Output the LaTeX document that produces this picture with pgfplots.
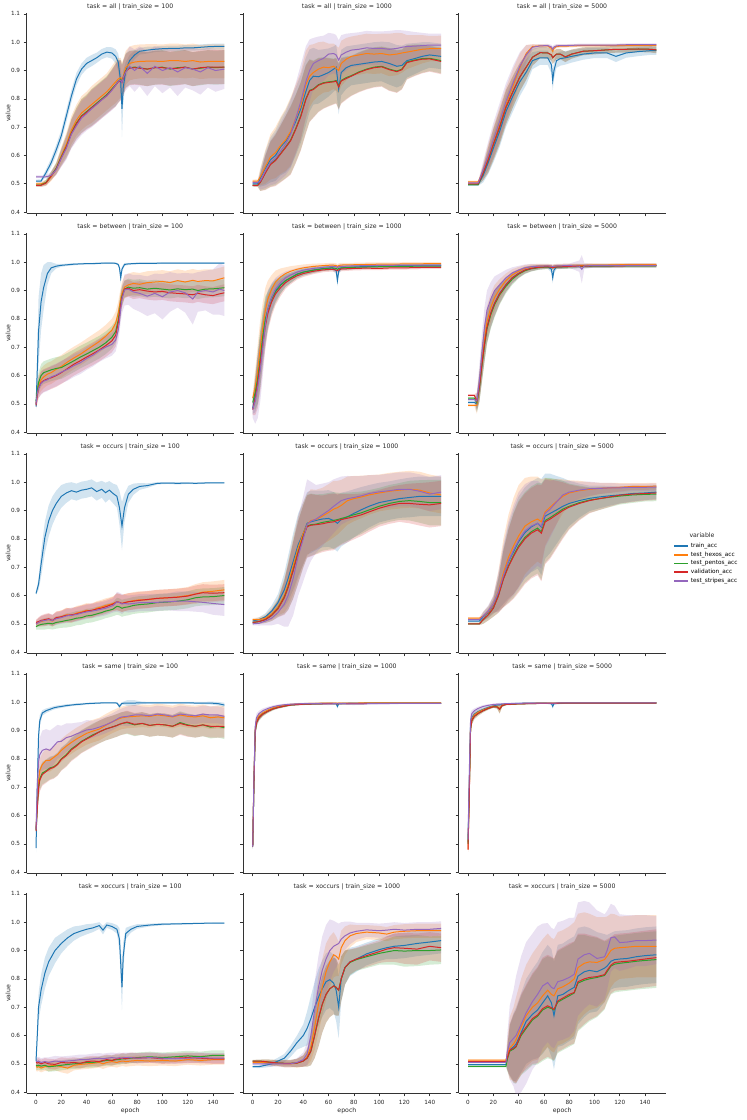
\documentclass[border=0pt]{standalone}
\usepackage{fontspec}
\setmainfont{DejaVu Sans}
\usepackage{pgfplots}
\usepackage{pgfplotstable}
\pgfplotsset{compat=1.18}
\usepgfplotslibrary{fillbetween}
\definecolor{mplblue}{HTML}{1F77B4}
\definecolor{mplorange}{HTML}{FF7F0E}
\definecolor{mplgreen}{HTML}{2CA02C}
\definecolor{mplred}{HTML}{D62728}
\definecolor{mplpurple}{HTML}{9467BD}
\newcommand{\fs}{\fontsize{6.2}{7.4}\selectfont}
\newcommand{\fst}{\fontsize{5.7}{6.8}\selectfont}
\newcommand{\fsl}{\fontsize{5.8}{6.9}\selectfont}
\pgfplotsset{
  facet/.style={
    width=207.2pt, height=200.3pt, scale only axis, anchor=north west,
    xmin=-7.45, xmax=156.45, ymin=0.3955, ymax=1.1025,
    axis x line*=bottom, axis y line*=left,
    axis line style={-, black!80, line width=0.7pt},
    xtick={0,20,40,60,80,100,120,140},
    ytick={0.4,0.5,0.6,0.7,0.8,0.9,1.0,1.1},
    tick align=outside, major tick length=3pt,
    tick style={black!80, line width=0.7pt},
    ticklabel style={font=\fst, text=black!85},
    xticklabels={}, yticklabels={},
    every axis title/.style={font=\fs, text=black!85, at={(axis description cs:0.5,1)}, anchor=base, yshift=5pt},
    every axis y label/.style={font=\fs, text=black!85, at={(axis description cs:-0.09,0.5)}, anchor=center, rotate=90},
    every axis x label/.style={font=\fs, text=black!85, at={(axis description cs:0.5,0)}, anchor=center, yshift=-17.5pt},
  },
  firstcol/.style={yticklabels={0.4,0.5,0.6,0.7,0.8,0.9,1.0,1.1}, ylabel={value}},
  lastrow/.style={xticklabels={0,20,40,60,80,100,120,140}, xlabel={epoch}},
}
\newcommand{\band}[3]{%
  \addplot[draw=none, name path=U#2, forget plot] table[x=e, y expr=\thisrow{#2}+\thisrow{#2w}] {#1};
  \addplot[draw=none, name path=L#2, forget plot] table[x=e, y expr=\thisrow{#2}-\thisrow{#2w}] {#1};
  \addplot[fill=#3, fill opacity=0.2, draw=none, forget plot] fill between[of=U#2 and L#2];
}
\newcommand{\mline}[3]{\addplot[#3, line width=1.0pt, forget plot] table[x=e, y=#2] {#1};}
\newcommand{\panelplots}[1]{%
  \band{#1}{a}{mplblue}\band{#1}{b}{mplorange}\band{#1}{c}{mplgreen}\band{#1}{d}{mplred}\band{#1}{f}{mplpurple}%
  \mline{#1}{a}{mplblue}\mline{#1}{b}{mplorange}\mline{#1}{c}{mplgreen}\mline{#1}{d}{mplred}\mline{#1}{f}{mplpurple}%
}
\begin{document}
% columns: e = epoch; a = train_acc, b = test_hexos_acc, c = test_pentos_acc, d = validation_acc, f = test_stripes_acc; *w = band half-width
\pgfplotstableread{
e a aw b bw c cw d dw f fw
0 0.510 0.005 0.500 0.005 0.495 0.005 0.495 0.005 0.525 0.005
4 0.510 0.006 0.500 0.006 0.496 0.006 0.495 0.006 0.525 0.005
8 0.540 0.012 0.505 0.010 0.505 0.010 0.503 0.010 0.525 0.006
12 0.575 0.015 0.525 0.015 0.530 0.015 0.528 0.015 0.530 0.012
16 0.620 0.018 0.555 0.020 0.555 0.020 0.552 0.020 0.550 0.018
20 0.670 0.020 0.600 0.030 0.595 0.030 0.592 0.030 0.590 0.030
24 0.740 0.022 0.640 0.040 0.632 0.040 0.630 0.040 0.625 0.040
28 0.810 0.022 0.690 0.050 0.680 0.050 0.678 0.050 0.675 0.050
32 0.870 0.022 0.725 0.055 0.715 0.055 0.712 0.055 0.705 0.055
36 0.905 0.020 0.750 0.060 0.740 0.060 0.738 0.060 0.732 0.060
40 0.925 0.020 0.765 0.060 0.755 0.060 0.752 0.060 0.748 0.060
44 0.935 0.020 0.780 0.065 0.770 0.065 0.768 0.065 0.765 0.065
48 0.945 0.018 0.795 0.065 0.785 0.065 0.782 0.065 0.780 0.065
52 0.958 0.018 0.810 0.065 0.800 0.065 0.797 0.065 0.796 0.065
56 0.965 0.018 0.825 0.065 0.815 0.065 0.812 0.065 0.810 0.065
60 0.962 0.020 0.845 0.070 0.835 0.070 0.832 0.070 0.830 0.070
63 0.950 0.025 0.860 0.075 0.850 0.075 0.848 0.075 0.848 0.075
65 0.930 0.030 0.870 0.075 0.862 0.075 0.860 0.075 0.862 0.075
67 0.860 0.050 0.875 0.070 0.868 0.070 0.865 0.070 0.866 0.070
68 0.765 0.100 0.868 0.060 0.862 0.060 0.858 0.060 0.858 0.060
69 0.840 0.060 0.880 0.060 0.875 0.060 0.872 0.060 0.876 0.060
71 0.900 0.030 0.910 0.060 0.900 0.060 0.898 0.060 0.895 0.065
74 0.935 0.020 0.925 0.060 0.910 0.060 0.908 0.060 0.915 0.070
78 0.955 0.015 0.930 0.060 0.912 0.060 0.910 0.060 0.900 0.075
82 0.968 0.012 0.932 0.060 0.910 0.060 0.908 0.060 0.915 0.070
88 0.972 0.012 0.933 0.060 0.905 0.060 0.905 0.060 0.890 0.080
94 0.975 0.010 0.933 0.060 0.910 0.060 0.910 0.060 0.915 0.070
100 0.977 0.010 0.932 0.060 0.912 0.060 0.910 0.060 0.900 0.080
106 0.978 0.010 0.935 0.060 0.905 0.060 0.907 0.060 0.910 0.070
112 0.978 0.010 0.935 0.060 0.910 0.060 0.908 0.060 0.895 0.085
118 0.980 0.010 0.932 0.060 0.912 0.060 0.912 0.060 0.910 0.070
124 0.980 0.010 0.935 0.060 0.905 0.060 0.905 0.060 0.905 0.075
130 0.982 0.010 0.930 0.060 0.908 0.060 0.910 0.060 0.895 0.080
136 0.984 0.010 0.932 0.060 0.912 0.060 0.912 0.060 0.910 0.070
142 0.985 0.010 0.932 0.060 0.910 0.060 0.912 0.060 0.900 0.075
149 0.985 0.010 0.932 0.060 0.912 0.060 0.912 0.060 0.905 0.070
}\Pa
\pgfplotstableread{
e a aw b bw c cw d dw f fw
0 0.500 0.005 0.510 0.005 0.495 0.005 0.495 0.005 0.505 0.005
4 0.500 0.006 0.510 0.006 0.495 0.006 0.495 0.006 0.505 0.006
6 0.520 0.030 0.525 0.030 0.505 0.030 0.505 0.030 0.510 0.030
10 0.555 0.060 0.560 0.060 0.540 0.060 0.538 0.060 0.545 0.060
14 0.585 0.080 0.595 0.080 0.570 0.080 0.568 0.080 0.575 0.080
18 0.600 0.090 0.610 0.090 0.585 0.090 0.582 0.090 0.590 0.090
22 0.630 0.100 0.635 0.100 0.607 0.100 0.605 0.100 0.615 0.100
26 0.650 0.110 0.655 0.110 0.630 0.110 0.628 0.110 0.640 0.110
30 0.680 0.120 0.685 0.120 0.655 0.120 0.652 0.120 0.675 0.120
34 0.720 0.120 0.730 0.120 0.695 0.120 0.692 0.120 0.730 0.125
38 0.765 0.120 0.775 0.120 0.740 0.120 0.737 0.120 0.790 0.130
42 0.825 0.120 0.850 0.120 0.800 0.120 0.797 0.120 0.860 0.125
45 0.865 0.110 0.880 0.110 0.830 0.110 0.828 0.110 0.900 0.110
48 0.880 0.100 0.893 0.100 0.835 0.100 0.833 0.100 0.925 0.090
52 0.878 0.095 0.905 0.095 0.850 0.095 0.848 0.095 0.935 0.085
56 0.885 0.090 0.912 0.090 0.857 0.090 0.855 0.090 0.943 0.080
60 0.893 0.085 0.910 0.085 0.860 0.085 0.858 0.085 0.958 0.075
64 0.905 0.080 0.915 0.080 0.862 0.080 0.860 0.080 0.960 0.070
66 0.912 0.080 0.908 0.080 0.865 0.080 0.863 0.080 0.955 0.070
68 0.835 0.090 0.900 0.080 0.845 0.080 0.842 0.080 0.937 0.070
70 0.893 0.080 0.925 0.080 0.865 0.080 0.863 0.080 0.955 0.070
74 0.910 0.075 0.940 0.075 0.875 0.075 0.872 0.075 0.965 0.065
78 0.918 0.070 0.950 0.070 0.882 0.070 0.880 0.070 0.972 0.060
84 0.922 0.070 0.955 0.070 0.895 0.070 0.893 0.070 0.975 0.060
90 0.926 0.070 0.960 0.070 0.905 0.070 0.903 0.070 0.980 0.060
96 0.930 0.070 0.958 0.070 0.912 0.070 0.910 0.070 0.978 0.060
102 0.932 0.070 0.960 0.070 0.915 0.070 0.913 0.070 0.978 0.060
108 0.925 0.075 0.955 0.075 0.905 0.075 0.903 0.075 0.975 0.065
114 0.915 0.075 0.958 0.075 0.898 0.075 0.896 0.075 0.978 0.065
118 0.918 0.070 0.962 0.070 0.905 0.070 0.903 0.070 0.982 0.060
122 0.935 0.060 0.965 0.060 0.930 0.060 0.928 0.060 0.985 0.055
128 0.942 0.055 0.970 0.055 0.937 0.055 0.935 0.055 0.986 0.050
134 0.950 0.050 0.975 0.050 0.942 0.050 0.940 0.050 0.988 0.045
140 0.955 0.045 0.977 0.045 0.943 0.045 0.941 0.045 0.990 0.040
149 0.950 0.045 0.978 0.045 0.935 0.045 0.932 0.045 0.990 0.040
}\Pb
\pgfplotstableread{
e a aw b bw c cw d dw f fw
0 0.497 0.004 0.507 0.004 0.497 0.004 0.500 0.004 0.503 0.004
8 0.497 0.004 0.507 0.004 0.497 0.004 0.500 0.004 0.503 0.004
12 0.530 0.025 0.545 0.025 0.538 0.025 0.538 0.025 0.550 0.030
16 0.575 0.040 0.595 0.045 0.585 0.045 0.585 0.045 0.600 0.050
20 0.625 0.050 0.645 0.055 0.638 0.055 0.638 0.055 0.655 0.060
25 0.685 0.055 0.710 0.060 0.700 0.060 0.700 0.060 0.720 0.065
30 0.755 0.055 0.780 0.060 0.770 0.060 0.770 0.060 0.790 0.065
36 0.815 0.055 0.850 0.060 0.830 0.055 0.830 0.055 0.860 0.060
41 0.860 0.050 0.910 0.050 0.877 0.050 0.877 0.050 0.915 0.050
46 0.894 0.045 0.960 0.030 0.912 0.045 0.912 0.045 0.955 0.035
51 0.935 0.030 0.985 0.008 0.947 0.030 0.947 0.030 0.982 0.010
57 0.945 0.025 0.987 0.005 0.963 0.020 0.963 0.020 0.987 0.006
63 0.945 0.025 0.987 0.005 0.962 0.020 0.962 0.020 0.988 0.006
66 0.920 0.030 0.978 0.008 0.955 0.020 0.955 0.020 0.983 0.008
67 0.865 0.035 0.968 0.012 0.945 0.022 0.945 0.022 0.975 0.010
68 0.900 0.030 0.978 0.008 0.950 0.020 0.950 0.020 0.983 0.008
70 0.935 0.025 0.985 0.006 0.958 0.018 0.958 0.018 0.987 0.006
73 0.942 0.025 0.986 0.005 0.958 0.018 0.958 0.018 0.988 0.005
77 0.945 0.024 0.986 0.005 0.948 0.018 0.948 0.018 0.988 0.005
82 0.950 0.022 0.987 0.005 0.958 0.016 0.958 0.016 0.989 0.005
91 0.958 0.020 0.988 0.005 0.968 0.014 0.968 0.014 0.990 0.005
100 0.962 0.018 0.988 0.005 0.970 0.013 0.970 0.013 0.990 0.005
110 0.962 0.018 0.988 0.005 0.973 0.012 0.973 0.012 0.990 0.005
117 0.950 0.020 0.988 0.005 0.975 0.012 0.975 0.012 0.990 0.005
125 0.962 0.017 0.989 0.005 0.975 0.012 0.975 0.012 0.991 0.005
135 0.967 0.016 0.989 0.005 0.976 0.011 0.976 0.011 0.991 0.005
144 0.970 0.015 0.989 0.005 0.975 0.011 0.975 0.011 0.991 0.005
149 0.970 0.015 0.989 0.005 0.973 0.012 0.973 0.012 0.991 0.005
}\Pc
\pgfplotstableread{
e a aw b bw c cw d dw f fw
0 0.490 0.010 0.500 0.010 0.510 0.010 0.495 0.010 0.500 0.010
1 0.620 0.080 0.540 0.030 0.545 0.030 0.530 0.030 0.535 0.030
2 0.757 0.120 0.565 0.035 0.575 0.035 0.555 0.035 0.555 0.035
4 0.860 0.100 0.585 0.040 0.600 0.040 0.575 0.040 0.572 0.040
6 0.910 0.080 0.595 0.040 0.610 0.040 0.582 0.040 0.580 0.040
9 0.960 0.040 0.605 0.040 0.615 0.040 0.588 0.040 0.585 0.040
12 0.980 0.020 0.610 0.040 0.620 0.040 0.592 0.040 0.595 0.040
16 0.986 0.008 0.622 0.040 0.625 0.040 0.600 0.040 0.602 0.040
20 0.989 0.005 0.632 0.040 0.628 0.040 0.610 0.040 0.612 0.040
25 0.991 0.004 0.648 0.040 0.640 0.040 0.625 0.040 0.622 0.040
30 0.993 0.004 0.662 0.040 0.652 0.040 0.640 0.040 0.635 0.040
35 0.994 0.003 0.675 0.040 0.665 0.040 0.652 0.040 0.645 0.040
40 0.995 0.003 0.690 0.040 0.676 0.040 0.665 0.040 0.660 0.040
45 0.995 0.003 0.705 0.040 0.688 0.040 0.677 0.040 0.672 0.040
50 0.996 0.003 0.720 0.040 0.700 0.040 0.690 0.040 0.688 0.040
55 0.997 0.003 0.738 0.040 0.715 0.040 0.705 0.040 0.700 0.040
60 0.997 0.003 0.760 0.040 0.735 0.040 0.722 0.040 0.710 0.040
63 0.996 0.003 0.785 0.040 0.755 0.040 0.742 0.040 0.725 0.040
65 0.992 0.004 0.820 0.040 0.795 0.040 0.785 0.040 0.760 0.040
66 0.980 0.010 0.845 0.040 0.825 0.040 0.815 0.040 0.790 0.040
67 0.945 0.020 0.870 0.040 0.855 0.040 0.850 0.040 0.835 0.045
68 0.975 0.010 0.890 0.040 0.880 0.035 0.875 0.035 0.870 0.050
70 0.992 0.005 0.912 0.040 0.905 0.030 0.905 0.030 0.902 0.055
73 0.994 0.004 0.920 0.040 0.912 0.030 0.908 0.030 0.905 0.055
77 0.995 0.003 0.925 0.040 0.908 0.030 0.900 0.030 0.895 0.060
82 0.996 0.003 0.922 0.040 0.910 0.030 0.903 0.030 0.890 0.065
88 0.996 0.003 0.928 0.040 0.905 0.030 0.898 0.030 0.880 0.070
94 0.996 0.003 0.930 0.040 0.908 0.030 0.895 0.030 0.890 0.070
100 0.997 0.003 0.932 0.040 0.905 0.030 0.897 0.030 0.878 0.080
106 0.997 0.003 0.928 0.040 0.902 0.030 0.892 0.030 0.895 0.070
112 0.997 0.003 0.935 0.040 0.906 0.030 0.890 0.030 0.900 0.060
118 0.997 0.003 0.930 0.040 0.903 0.030 0.888 0.030 0.892 0.070
124 0.997 0.003 0.936 0.040 0.905 0.030 0.885 0.030 0.870 0.090
128 0.997 0.003 0.932 0.040 0.900 0.030 0.890 0.030 0.895 0.070
134 0.997 0.003 0.935 0.040 0.905 0.030 0.885 0.030 0.900 0.070
140 0.997 0.003 0.934 0.040 0.906 0.030 0.882 0.030 0.895 0.080
145 0.997 0.003 0.940 0.040 0.908 0.030 0.888 0.030 0.905 0.090
149 0.997 0.003 0.945 0.040 0.910 0.030 0.892 0.030 0.900 0.090
}\Pd
\pgfplotstableread{
e a aw b bw c cw d dw f fw
0 0.485 0.020 0.520 0.020 0.505 0.020 0.480 0.020 0.480 0.030
2 0.530 0.060 0.560 0.060 0.540 0.060 0.520 0.060 0.510 0.080
4 0.590 0.090 0.620 0.090 0.590 0.090 0.575 0.090 0.560 0.110
6 0.660 0.100 0.700 0.100 0.660 0.100 0.645 0.100 0.620 0.110
8 0.730 0.090 0.770 0.090 0.740 0.090 0.715 0.090 0.700 0.100
10 0.790 0.080 0.830 0.080 0.800 0.080 0.775 0.080 0.780 0.080
12 0.835 0.065 0.870 0.065 0.830 0.065 0.820 0.065 0.835 0.065
15 0.875 0.050 0.905 0.050 0.870 0.050 0.860 0.050 0.875 0.050
18 0.900 0.040 0.930 0.040 0.895 0.040 0.888 0.040 0.905 0.040
22 0.920 0.030 0.948 0.030 0.918 0.030 0.910 0.030 0.928 0.030
26 0.935 0.022 0.960 0.022 0.935 0.022 0.928 0.022 0.945 0.022
30 0.945 0.018 0.968 0.018 0.945 0.018 0.940 0.018 0.955 0.018
35 0.958 0.014 0.975 0.014 0.957 0.014 0.952 0.014 0.965 0.014
40 0.965 0.012 0.980 0.012 0.965 0.012 0.960 0.012 0.972 0.012
48 0.972 0.010 0.985 0.010 0.972 0.010 0.968 0.010 0.978 0.010
56 0.978 0.008 0.988 0.008 0.977 0.008 0.973 0.008 0.982 0.008
63 0.980 0.008 0.990 0.008 0.980 0.008 0.975 0.008 0.985 0.008
66 0.970 0.012 0.988 0.008 0.978 0.008 0.972 0.008 0.984 0.008
67 0.935 0.020 0.985 0.008 0.975 0.008 0.970 0.008 0.980 0.008
68 0.968 0.012 0.988 0.008 0.978 0.008 0.973 0.008 0.984 0.008
70 0.980 0.008 0.990 0.008 0.980 0.008 0.976 0.008 0.985 0.008
80 0.983 0.008 0.991 0.007 0.982 0.007 0.978 0.007 0.987 0.007
90 0.985 0.007 0.992 0.007 0.983 0.007 0.979 0.007 0.988 0.007
100 0.986 0.007 0.993 0.006 0.984 0.006 0.978 0.006 0.989 0.006
110 0.987 0.006 0.993 0.006 0.985 0.006 0.980 0.006 0.989 0.006
120 0.988 0.006 0.994 0.006 0.985 0.006 0.980 0.006 0.990 0.006
130 0.988 0.006 0.994 0.006 0.986 0.006 0.981 0.006 0.990 0.006
140 0.989 0.006 0.995 0.005 0.986 0.006 0.982 0.006 0.990 0.006
149 0.989 0.006 0.995 0.005 0.986 0.006 0.982 0.006 0.990 0.006
}\Pe
\pgfplotstableread{
e a aw b bw c cw d dw f fw
0 0.505 0.004 0.495 0.004 0.520 0.004 0.530 0.004 0.515 0.004
5 0.505 0.004 0.495 0.004 0.520 0.004 0.530 0.004 0.515 0.004
7 0.500 0.030 0.495 0.030 0.505 0.030 0.510 0.030 0.510 0.030
9 0.560 0.050 0.560 0.050 0.555 0.050 0.560 0.050 0.580 0.060
11 0.640 0.060 0.650 0.060 0.635 0.060 0.640 0.060 0.680 0.070
13 0.710 0.060 0.725 0.060 0.705 0.060 0.710 0.060 0.770 0.070
15 0.770 0.055 0.790 0.055 0.765 0.055 0.770 0.055 0.830 0.070
18 0.820 0.050 0.840 0.050 0.815 0.050 0.820 0.050 0.870 0.060
21 0.855 0.045 0.875 0.045 0.850 0.045 0.855 0.045 0.900 0.050
25 0.890 0.035 0.905 0.035 0.885 0.035 0.888 0.035 0.920 0.040
30 0.920 0.025 0.935 0.025 0.915 0.025 0.920 0.025 0.945 0.028
35 0.945 0.020 0.955 0.020 0.940 0.020 0.945 0.020 0.962 0.020
40 0.960 0.015 0.968 0.015 0.958 0.015 0.960 0.015 0.972 0.015
45 0.972 0.012 0.978 0.012 0.970 0.012 0.972 0.012 0.980 0.012
50 0.978 0.010 0.983 0.010 0.977 0.010 0.978 0.010 0.984 0.010
56 0.982 0.008 0.986 0.008 0.981 0.008 0.982 0.008 0.986 0.008
63 0.984 0.007 0.987 0.007 0.983 0.007 0.984 0.007 0.987 0.007
66 0.975 0.012 0.986 0.007 0.982 0.007 0.982 0.007 0.986 0.007
67 0.945 0.020 0.984 0.007 0.980 0.007 0.980 0.007 0.984 0.007
68 0.972 0.012 0.986 0.007 0.982 0.007 0.982 0.007 0.986 0.007
70 0.983 0.008 0.987 0.007 0.983 0.007 0.983 0.007 0.987 0.007
80 0.985 0.007 0.988 0.007 0.984 0.007 0.985 0.007 0.988 0.007
88 0.986 0.007 0.989 0.006 0.985 0.006 0.986 0.006 0.986 0.020
90 0.986 0.007 0.989 0.006 0.985 0.006 0.986 0.006 0.975 0.050
92 0.986 0.007 0.989 0.006 0.985 0.006 0.986 0.006 0.987 0.010
100 0.987 0.006 0.990 0.006 0.986 0.006 0.987 0.006 0.988 0.007
110 0.987 0.006 0.990 0.006 0.986 0.006 0.987 0.006 0.988 0.007
120 0.988 0.006 0.991 0.006 0.987 0.006 0.987 0.006 0.988 0.007
130 0.988 0.006 0.991 0.006 0.987 0.006 0.988 0.006 0.989 0.007
140 0.988 0.006 0.991 0.006 0.987 0.006 0.988 0.006 0.989 0.007
149 0.988 0.006 0.991 0.006 0.987 0.006 0.988 0.006 0.989 0.007
}\Pf
\pgfplotstableread{
e a aw b bw c cw d dw f fw
0 0.607 0.005 0.500 0.010 0.490 0.010 0.505 0.010 0.500 0.010
2 0.640 0.020 0.505 0.015 0.495 0.015 0.508 0.015 0.505 0.015
4 0.710 0.045 0.508 0.018 0.498 0.018 0.512 0.018 0.510 0.018
7 0.805 0.055 0.512 0.020 0.500 0.020 0.515 0.020 0.512 0.020
10 0.863 0.055 0.515 0.020 0.502 0.020 0.518 0.020 0.515 0.020
13 0.900 0.050 0.510 0.020 0.500 0.020 0.512 0.020 0.512 0.020
16 0.925 0.045 0.520 0.022 0.505 0.022 0.522 0.022 0.518 0.022
20 0.950 0.040 0.525 0.022 0.508 0.022 0.525 0.022 0.522 0.022
24 0.962 0.035 0.532 0.025 0.512 0.025 0.530 0.025 0.528 0.025
28 0.970 0.030 0.528 0.025 0.515 0.025 0.532 0.025 0.530 0.025
32 0.965 0.030 0.538 0.025 0.520 0.025 0.535 0.025 0.533 0.025
36 0.972 0.030 0.542 0.025 0.522 0.025 0.540 0.025 0.538 0.025
40 0.975 0.030 0.548 0.025 0.528 0.025 0.545 0.025 0.542 0.025
44 0.980 0.030 0.545 0.025 0.530 0.025 0.548 0.025 0.545 0.025
48 0.967 0.032 0.555 0.025 0.535 0.025 0.552 0.025 0.548 0.025
52 0.975 0.030 0.560 0.025 0.540 0.025 0.556 0.025 0.552 0.025
55 0.963 0.035 0.565 0.025 0.545 0.025 0.560 0.025 0.555 0.025
58 0.972 0.032 0.568 0.025 0.548 0.025 0.565 0.025 0.560 0.025
61 0.960 0.035 0.572 0.025 0.552 0.025 0.570 0.025 0.565 0.025
64 0.950 0.040 0.578 0.030 0.562 0.030 0.578 0.030 0.578 0.035
66 0.910 0.060 0.575 0.030 0.560 0.030 0.576 0.030 0.575 0.035
68 0.845 0.085 0.572 0.030 0.555 0.030 0.572 0.030 0.570 0.035
70 0.910 0.050 0.575 0.030 0.558 0.030 0.575 0.030 0.572 0.030
73 0.957 0.030 0.578 0.030 0.560 0.030 0.578 0.030 0.570 0.030
77 0.975 0.020 0.582 0.030 0.565 0.030 0.580 0.030 0.572 0.030
82 0.985 0.012 0.585 0.030 0.568 0.030 0.583 0.030 0.575 0.030
88 0.988 0.008 0.585 0.030 0.570 0.030 0.586 0.030 0.575 0.030
96 0.996 0.004 0.590 0.030 0.575 0.030 0.590 0.030 0.576 0.030
104 0.997 0.003 0.592 0.030 0.577 0.030 0.592 0.030 0.578 0.030
112 0.996 0.004 0.595 0.030 0.580 0.030 0.594 0.030 0.580 0.035
120 0.997 0.003 0.600 0.030 0.585 0.030 0.598 0.030 0.580 0.035
126 0.996 0.003 0.605 0.035 0.592 0.030 0.605 0.030 0.578 0.035
132 0.997 0.003 0.612 0.035 0.595 0.030 0.610 0.030 0.576 0.035
140 0.998 0.002 0.615 0.035 0.596 0.030 0.608 0.030 0.572 0.040
149 0.998 0.002 0.620 0.035 0.600 0.030 0.610 0.030 0.568 0.040
}\Pg
\pgfplotstableread{
e a aw b bw c cw d dw f fw
0 0.510 0.005 0.515 0.005 0.505 0.005 0.505 0.005 0.500 0.005
5 0.515 0.008 0.515 0.008 0.508 0.008 0.508 0.008 0.502 0.008
10 0.525 0.012 0.520 0.012 0.515 0.012 0.515 0.012 0.510 0.015
15 0.545 0.020 0.535 0.020 0.530 0.020 0.530 0.020 0.520 0.025
20 0.575 0.030 0.560 0.030 0.555 0.030 0.553 0.030 0.540 0.040
25 0.620 0.060 0.600 0.060 0.595 0.060 0.592 0.060 0.570 0.080
28 0.660 0.080 0.640 0.080 0.630 0.080 0.628 0.080 0.600 0.110
32 0.720 0.100 0.705 0.100 0.690 0.100 0.688 0.100 0.660 0.130
36 0.780 0.110 0.770 0.110 0.755 0.110 0.752 0.110 0.740 0.140
40 0.820 0.110 0.820 0.110 0.810 0.110 0.808 0.110 0.800 0.150
43 0.855 0.110 0.850 0.110 0.845 0.110 0.843 0.110 0.850 0.160
46 0.860 0.110 0.865 0.110 0.850 0.110 0.848 0.110 0.862 0.140
50 0.865 0.105 0.868 0.105 0.852 0.105 0.850 0.105 0.870 0.120
55 0.870 0.100 0.880 0.100 0.858 0.100 0.853 0.100 0.885 0.110
60 0.872 0.100 0.893 0.100 0.862 0.100 0.858 0.100 0.900 0.100
64 0.865 0.100 0.905 0.100 0.865 0.100 0.860 0.100 0.915 0.095
67 0.855 0.100 0.910 0.095 0.868 0.095 0.865 0.095 0.925 0.090
70 0.868 0.095 0.918 0.090 0.872 0.090 0.868 0.090 0.935 0.085
75 0.878 0.090 0.935 0.085 0.878 0.085 0.873 0.085 0.942 0.080
80 0.890 0.085 0.942 0.080 0.885 0.080 0.878 0.080 0.946 0.075
86 0.903 0.080 0.948 0.075 0.892 0.075 0.885 0.075 0.952 0.070
92 0.915 0.075 0.955 0.070 0.902 0.070 0.895 0.070 0.960 0.065
100 0.928 0.070 0.962 0.065 0.915 0.065 0.908 0.065 0.966 0.060
108 0.935 0.068 0.968 0.065 0.925 0.065 0.918 0.065 0.970 0.060
116 0.942 0.068 0.972 0.065 0.932 0.065 0.925 0.065 0.975 0.060
124 0.946 0.070 0.975 0.065 0.935 0.070 0.925 0.070 0.975 0.060
132 0.950 0.070 0.972 0.065 0.932 0.075 0.922 0.075 0.968 0.060
140 0.950 0.070 0.962 0.065 0.928 0.080 0.920 0.080 0.958 0.060
149 0.950 0.070 0.955 0.065 0.928 0.080 0.925 0.080 0.965 0.060
}\Ph
\pgfplotstableread{
e a aw b bw c cw d dw f fw
0 0.510 0.004 0.520 0.004 0.500 0.004 0.500 0.004 0.515 0.004
9 0.510 0.004 0.520 0.004 0.500 0.004 0.500 0.004 0.515 0.004
12 0.525 0.015 0.528 0.015 0.515 0.015 0.515 0.015 0.528 0.015
16 0.540 0.020 0.542 0.020 0.532 0.020 0.532 0.020 0.545 0.020
20 0.565 0.030 0.568 0.030 0.555 0.030 0.555 0.030 0.570 0.030
24 0.610 0.060 0.615 0.070 0.600 0.060 0.598 0.060 0.612 0.070
28 0.670 0.100 0.680 0.120 0.660 0.100 0.658 0.100 0.670 0.110
32 0.720 0.130 0.735 0.150 0.705 0.130 0.702 0.130 0.722 0.140
36 0.755 0.150 0.775 0.170 0.742 0.150 0.738 0.150 0.760 0.160
40 0.790 0.160 0.810 0.180 0.775 0.160 0.770 0.160 0.795 0.170
45 0.822 0.160 0.845 0.170 0.805 0.160 0.800 0.160 0.828 0.165
50 0.842 0.160 0.860 0.160 0.825 0.160 0.820 0.160 0.845 0.160
55 0.855 0.160 0.870 0.150 0.838 0.160 0.832 0.160 0.855 0.150
58 0.842 0.170 0.860 0.150 0.825 0.170 0.820 0.170 0.845 0.150
61 0.880 0.150 0.895 0.120 0.865 0.150 0.860 0.150 0.890 0.120
65 0.890 0.140 0.912 0.100 0.875 0.140 0.870 0.140 0.905 0.100
70 0.902 0.120 0.932 0.080 0.890 0.120 0.885 0.120 0.930 0.080
75 0.915 0.100 0.950 0.060 0.905 0.100 0.900 0.100 0.955 0.050
80 0.925 0.080 0.962 0.045 0.915 0.080 0.912 0.080 0.965 0.040
88 0.935 0.060 0.970 0.035 0.928 0.060 0.925 0.060 0.972 0.030
96 0.943 0.045 0.975 0.025 0.937 0.045 0.935 0.045 0.977 0.025
104 0.948 0.040 0.978 0.020 0.942 0.040 0.942 0.040 0.978 0.020
112 0.952 0.035 0.980 0.018 0.947 0.035 0.948 0.035 0.980 0.018
120 0.955 0.030 0.982 0.015 0.951 0.030 0.954 0.030 0.980 0.015
130 0.960 0.028 0.985 0.012 0.955 0.028 0.958 0.028 0.982 0.013
140 0.962 0.025 0.985 0.012 0.957 0.025 0.960 0.025 0.982 0.013
149 0.965 0.025 0.986 0.012 0.958 0.025 0.962 0.025 0.983 0.013
}\PPi
\pgfplotstableread{
e a aw b bw c cw d dw f fw
0 0.485 0.015 0.550 0.010 0.548 0.010 0.545 0.010 0.550 0.010
1 0.700 0.050 0.650 0.040 0.630 0.040 0.625 0.040 0.700 0.050
2 0.880 0.040 0.720 0.040 0.700 0.040 0.695 0.040 0.790 0.060
3 0.935 0.020 0.760 0.040 0.730 0.040 0.725 0.040 0.815 0.060
5 0.962 0.010 0.780 0.040 0.750 0.040 0.745 0.040 0.830 0.070
8 0.970 0.008 0.795 0.040 0.758 0.040 0.755 0.040 0.835 0.070
11 0.975 0.007 0.795 0.040 0.768 0.040 0.765 0.040 0.830 0.070
14 0.980 0.006 0.805 0.040 0.772 0.040 0.770 0.040 0.845 0.065
17 0.983 0.006 0.815 0.040 0.782 0.040 0.780 0.040 0.860 0.060
20 0.985 0.005 0.830 0.040 0.800 0.040 0.798 0.040 0.862 0.055
24 0.988 0.005 0.845 0.040 0.815 0.040 0.812 0.040 0.875 0.050
28 0.990 0.004 0.858 0.040 0.835 0.040 0.832 0.040 0.880 0.045
32 0.992 0.004 0.870 0.040 0.848 0.040 0.845 0.040 0.888 0.040
36 0.993 0.004 0.880 0.040 0.862 0.040 0.860 0.040 0.895 0.035
40 0.995 0.003 0.890 0.040 0.872 0.040 0.870 0.040 0.902 0.035
45 0.996 0.003 0.898 0.040 0.885 0.040 0.882 0.040 0.905 0.030
50 0.997 0.003 0.905 0.040 0.895 0.040 0.895 0.040 0.912 0.030
55 0.998 0.002 0.918 0.040 0.905 0.040 0.905 0.040 0.920 0.030
60 0.998 0.002 0.930 0.040 0.912 0.040 0.912 0.040 0.930 0.030
64 0.997 0.003 0.938 0.040 0.918 0.040 0.918 0.040 0.940 0.030
66 0.985 0.008 0.942 0.040 0.922 0.040 0.922 0.040 0.945 0.030
68 0.996 0.004 0.945 0.040 0.925 0.040 0.925 0.040 0.948 0.030
72 0.997 0.010 0.948 0.040 0.928 0.040 0.930 0.040 0.950 0.035
78 0.997 0.010 0.950 0.040 0.920 0.040 0.922 0.040 0.955 0.035
84 0.998 0.004 0.952 0.040 0.925 0.040 0.925 0.040 0.955 0.030
90 0.998 0.003 0.950 0.040 0.918 0.040 0.918 0.040 0.952 0.030
96 0.998 0.003 0.955 0.040 0.922 0.040 0.922 0.040 0.958 0.030
102 0.998 0.003 0.952 0.040 0.920 0.040 0.920 0.040 0.955 0.030
108 0.998 0.003 0.948 0.040 0.915 0.040 0.915 0.040 0.950 0.030
114 0.998 0.003 0.955 0.040 0.928 0.040 0.925 0.040 0.958 0.030
120 0.998 0.003 0.950 0.040 0.920 0.040 0.918 0.040 0.955 0.030
126 0.997 0.004 0.948 0.040 0.915 0.040 0.915 0.040 0.952 0.030
132 0.997 0.004 0.952 0.040 0.920 0.040 0.920 0.040 0.958 0.030
138 0.997 0.005 0.945 0.040 0.912 0.040 0.915 0.040 0.955 0.030
144 0.995 0.006 0.948 0.040 0.915 0.040 0.915 0.040 0.955 0.030
149 0.990 0.008 0.945 0.040 0.910 0.040 0.915 0.040 0.950 0.030
}\Pj
\pgfplotstableread{
e a aw b bw c cw d dw f fw
0 0.490 0.008 0.495 0.008 0.490 0.008 0.490 0.008 0.490 0.008
1 0.720 0.040 0.740 0.040 0.720 0.040 0.720 0.040 0.740 0.040
2 0.900 0.025 0.905 0.025 0.895 0.025 0.895 0.025 0.915 0.025
3 0.930 0.015 0.935 0.015 0.928 0.015 0.928 0.015 0.945 0.015
5 0.948 0.010 0.952 0.010 0.945 0.010 0.945 0.010 0.960 0.010
8 0.960 0.008 0.962 0.008 0.958 0.008 0.958 0.008 0.970 0.008
12 0.970 0.006 0.972 0.006 0.968 0.006 0.968 0.006 0.978 0.006
16 0.978 0.005 0.980 0.005 0.976 0.005 0.976 0.005 0.984 0.005
20 0.983 0.004 0.985 0.004 0.981 0.004 0.981 0.004 0.988 0.004
25 0.988 0.004 0.989 0.004 0.986 0.004 0.986 0.004 0.991 0.004
30 0.991 0.003 0.992 0.003 0.990 0.003 0.990 0.003 0.993 0.003
40 0.994 0.003 0.995 0.003 0.993 0.003 0.993 0.003 0.995 0.003
50 0.995 0.003 0.996 0.003 0.994 0.003 0.994 0.003 0.995 0.004
60 0.996 0.003 0.997 0.003 0.995 0.003 0.995 0.003 0.994 0.004
66 0.995 0.004 0.997 0.003 0.995 0.003 0.995 0.003 0.995 0.004
67 0.985 0.008 0.996 0.003 0.994 0.003 0.994 0.003 0.994 0.004
68 0.995 0.004 0.997 0.003 0.995 0.003 0.995 0.003 0.995 0.004
80 0.997 0.002 0.997 0.002 0.995 0.002 0.995 0.002 0.994 0.004
100 0.997 0.002 0.998 0.002 0.996 0.002 0.996 0.002 0.995 0.003
120 0.997 0.002 0.998 0.002 0.996 0.002 0.996 0.002 0.996 0.003
149 0.997 0.002 0.998 0.002 0.996 0.002 0.996 0.002 0.996 0.003
}\Pk
\pgfplotstableread{
e a aw b bw c cw d dw f fw
0 0.505 0.010 0.480 0.008 0.500 0.008 0.480 0.008 0.515 0.010
1 0.700 0.060 0.680 0.060 0.690 0.060 0.670 0.060 0.750 0.080
2 0.920 0.030 0.910 0.030 0.905 0.030 0.905 0.030 0.935 0.030
3 0.945 0.015 0.940 0.015 0.935 0.015 0.935 0.015 0.960 0.012
5 0.958 0.010 0.955 0.010 0.950 0.010 0.950 0.010 0.970 0.008
8 0.967 0.008 0.965 0.008 0.960 0.008 0.960 0.008 0.978 0.006
12 0.975 0.006 0.973 0.006 0.970 0.006 0.970 0.006 0.985 0.005
16 0.982 0.005 0.980 0.005 0.978 0.005 0.978 0.005 0.989 0.004
20 0.987 0.004 0.986 0.004 0.984 0.004 0.984 0.004 0.992 0.003
23 0.990 0.004 0.985 0.006 0.983 0.006 0.983 0.006 0.993 0.003
25 0.991 0.004 0.978 0.015 0.975 0.015 0.975 0.015 0.993 0.005
27 0.992 0.003 0.990 0.005 0.988 0.005 0.988 0.005 0.994 0.003
30 0.994 0.003 0.993 0.003 0.992 0.003 0.992 0.003 0.995 0.003
40 0.996 0.002 0.995 0.002 0.994 0.002 0.994 0.002 0.996 0.002
50 0.997 0.002 0.996 0.002 0.995 0.002 0.995 0.002 0.997 0.002
60 0.997 0.002 0.997 0.002 0.996 0.002 0.996 0.002 0.997 0.002
66 0.995 0.004 0.997 0.002 0.996 0.002 0.996 0.002 0.997 0.002
67 0.985 0.008 0.997 0.002 0.996 0.002 0.996 0.002 0.997 0.002
68 0.995 0.004 0.997 0.002 0.996 0.002 0.996 0.002 0.997 0.002
80 0.998 0.002 0.998 0.002 0.997 0.002 0.997 0.002 0.998 0.002
100 0.998 0.002 0.998 0.002 0.997 0.002 0.997 0.002 0.998 0.002
149 0.998 0.002 0.998 0.002 0.997 0.002 0.997 0.002 0.998 0.002
}\Pl
\pgfplotstableread{
e a aw b bw c cw d dw f fw
0 0.510 0.010 0.490 0.015 0.495 0.015 0.505 0.015 0.510 0.015
1 0.600 0.030 0.488 0.015 0.493 0.015 0.503 0.015 0.508 0.015
2 0.700 0.050 0.490 0.015 0.495 0.015 0.505 0.015 0.510 0.015
4 0.760 0.055 0.485 0.015 0.492 0.015 0.500 0.015 0.505 0.015
7 0.820 0.055 0.490 0.015 0.495 0.015 0.505 0.015 0.508 0.015
10 0.860 0.050 0.492 0.018 0.490 0.018 0.500 0.018 0.505 0.018
15 0.900 0.045 0.495 0.018 0.492 0.018 0.498 0.018 0.510 0.018
20 0.925 0.035 0.490 0.020 0.495 0.018 0.505 0.018 0.508 0.018
25 0.945 0.030 0.485 0.020 0.498 0.018 0.503 0.018 0.510 0.018
30 0.960 0.025 0.495 0.018 0.500 0.018 0.505 0.018 0.512 0.018
35 0.968 0.020 0.498 0.018 0.502 0.018 0.502 0.018 0.515 0.018
40 0.975 0.018 0.500 0.018 0.505 0.018 0.508 0.018 0.515 0.018
45 0.980 0.015 0.502 0.018 0.505 0.018 0.510 0.018 0.518 0.018
50 0.988 0.012 0.505 0.018 0.508 0.018 0.508 0.018 0.520 0.018
53 0.972 0.015 0.500 0.018 0.510 0.018 0.512 0.018 0.518 0.018
56 0.990 0.010 0.505 0.018 0.512 0.018 0.515 0.018 0.520 0.018
60 0.985 0.012 0.508 0.018 0.512 0.018 0.512 0.018 0.522 0.018
64 0.975 0.015 0.505 0.018 0.515 0.018 0.518 0.018 0.520 0.018
66 0.940 0.040 0.508 0.018 0.515 0.018 0.518 0.018 0.522 0.018
68 0.770 0.080 0.510 0.018 0.518 0.018 0.520 0.018 0.520 0.018
69 0.880 0.050 0.510 0.018 0.518 0.018 0.520 0.018 0.522 0.018
71 0.960 0.020 0.508 0.018 0.518 0.018 0.518 0.018 0.522 0.018
75 0.975 0.012 0.510 0.018 0.520 0.018 0.522 0.018 0.522 0.018
80 0.985 0.008 0.512 0.018 0.522 0.018 0.520 0.018 0.520 0.018
90 0.990 0.005 0.510 0.018 0.525 0.018 0.522 0.018 0.522 0.018
100 0.993 0.004 0.512 0.018 0.522 0.018 0.518 0.018 0.520 0.018
110 0.994 0.003 0.510 0.018 0.525 0.018 0.520 0.018 0.518 0.018
120 0.995 0.003 0.515 0.018 0.528 0.018 0.522 0.018 0.520 0.018
130 0.996 0.002 0.512 0.018 0.525 0.018 0.520 0.018 0.522 0.018
140 0.997 0.002 0.515 0.018 0.530 0.018 0.518 0.018 0.520 0.018
149 0.997 0.002 0.515 0.018 0.530 0.018 0.518 0.018 0.520 0.018
}\Pm
\pgfplotstableread{
e a aw b bw c cw d dw f fw
0 0.490 0.004 0.505 0.004 0.510 0.004 0.510 0.004 0.500 0.004
5 0.490 0.005 0.505 0.005 0.510 0.005 0.510 0.005 0.500 0.005
10 0.495 0.008 0.505 0.008 0.508 0.008 0.508 0.008 0.500 0.008
15 0.500 0.010 0.503 0.010 0.505 0.010 0.505 0.010 0.500 0.010
20 0.510 0.012 0.502 0.010 0.503 0.010 0.503 0.010 0.500 0.010
25 0.520 0.015 0.500 0.012 0.502 0.012 0.502 0.012 0.500 0.012
30 0.545 0.020 0.500 0.012 0.502 0.012 0.502 0.012 0.500 0.012
35 0.575 0.025 0.502 0.015 0.503 0.015 0.503 0.015 0.505 0.015
40 0.600 0.040 0.510 0.020 0.510 0.020 0.510 0.020 0.515 0.025
43 0.625 0.060 0.525 0.030 0.520 0.030 0.520 0.030 0.535 0.040
46 0.660 0.080 0.560 0.050 0.545 0.050 0.545 0.050 0.600 0.070
49 0.700 0.090 0.630 0.080 0.600 0.080 0.600 0.080 0.690 0.100
52 0.735 0.100 0.710 0.100 0.660 0.100 0.660 0.100 0.770 0.110
55 0.765 0.100 0.770 0.100 0.710 0.100 0.710 0.100 0.830 0.120
58 0.790 0.100 0.825 0.100 0.745 0.100 0.745 0.100 0.870 0.120
61 0.797 0.100 0.860 0.090 0.765 0.100 0.765 0.100 0.900 0.110
64 0.785 0.100 0.885 0.080 0.775 0.100 0.775 0.100 0.915 0.090
66 0.760 0.110 0.880 0.070 0.770 0.100 0.770 0.100 0.920 0.080
68 0.700 0.110 0.870 0.060 0.760 0.090 0.760 0.090 0.925 0.070
70 0.800 0.080 0.910 0.060 0.800 0.080 0.800 0.080 0.940 0.060
73 0.840 0.060 0.935 0.050 0.840 0.060 0.840 0.060 0.952 0.050
77 0.860 0.050 0.952 0.040 0.858 0.045 0.860 0.045 0.962 0.040
82 0.870 0.045 0.960 0.030 0.868 0.040 0.870 0.040 0.968 0.030
90 0.888 0.040 0.965 0.025 0.878 0.040 0.882 0.040 0.973 0.025
100 0.903 0.040 0.962 0.025 0.890 0.040 0.896 0.040 0.970 0.025
106 0.910 0.040 0.958 0.025 0.895 0.045 0.905 0.045 0.972 0.025
112 0.915 0.045 0.965 0.025 0.900 0.050 0.910 0.050 0.975 0.025
120 0.918 0.045 0.968 0.025 0.898 0.055 0.908 0.055 0.972 0.025
130 0.925 0.045 0.970 0.025 0.900 0.055 0.905 0.055 0.975 0.025
140 0.930 0.045 0.970 0.025 0.900 0.050 0.915 0.050 0.975 0.025
149 0.935 0.045 0.970 0.025 0.902 0.050 0.910 0.050 0.978 0.025
}\Pn
\pgfplotstableread{
e a aw b bw c cw d dw f fw
0 0.497 0.003 0.513 0.003 0.491 0.003 0.508 0.003 0.505 0.003
30 0.497 0.003 0.513 0.003 0.491 0.003 0.508 0.003 0.505 0.003
31 0.520 0.040 0.530 0.050 0.515 0.040 0.520 0.040 0.540 0.060
33 0.550 0.090 0.555 0.110 0.545 0.090 0.548 0.090 0.575 0.130
36 0.560 0.120 0.570 0.130 0.552 0.120 0.555 0.120 0.590 0.170
38 0.570 0.130 0.585 0.150 0.560 0.130 0.562 0.130 0.600 0.210
42 0.610 0.140 0.630 0.170 0.600 0.140 0.605 0.140 0.640 0.240
46 0.650 0.150 0.670 0.180 0.625 0.150 0.630 0.150 0.680 0.250
51 0.675 0.160 0.700 0.190 0.655 0.160 0.660 0.160 0.720 0.240
55 0.690 0.170 0.715 0.200 0.668 0.170 0.672 0.170 0.745 0.240
59 0.715 0.180 0.740 0.200 0.690 0.180 0.695 0.180 0.775 0.220
63 0.740 0.180 0.760 0.200 0.700 0.180 0.705 0.180 0.787 0.210
66 0.715 0.190 0.745 0.200 0.695 0.180 0.698 0.180 0.770 0.210
68 0.670 0.190 0.740 0.200 0.690 0.180 0.692 0.180 0.765 0.210
71 0.740 0.180 0.765 0.200 0.718 0.180 0.722 0.180 0.790 0.210
75 0.745 0.180 0.772 0.200 0.728 0.180 0.732 0.180 0.795 0.210
80 0.760 0.180 0.785 0.200 0.740 0.180 0.745 0.180 0.805 0.210
84 0.770 0.180 0.800 0.200 0.750 0.180 0.752 0.180 0.816 0.200
87 0.810 0.170 0.840 0.190 0.785 0.170 0.790 0.170 0.870 0.200
92 0.825 0.160 0.855 0.180 0.795 0.160 0.800 0.160 0.885 0.190
96 0.830 0.150 0.860 0.170 0.800 0.150 0.805 0.150 0.890 0.180
102 0.825 0.140 0.858 0.160 0.805 0.140 0.808 0.140 0.872 0.170
108 0.838 0.120 0.868 0.150 0.812 0.120 0.815 0.120 0.878 0.150
110 0.845 0.110 0.880 0.140 0.825 0.110 0.830 0.110 0.900 0.140
113 0.862 0.100 0.900 0.130 0.845 0.100 0.848 0.100 0.945 0.120
116 0.868 0.100 0.908 0.120 0.852 0.100 0.858 0.100 0.948 0.110
120 0.870 0.100 0.910 0.110 0.855 0.100 0.860 0.100 0.928 0.100
126 0.872 0.100 0.912 0.110 0.858 0.100 0.862 0.100 0.930 0.095
133 0.878 0.100 0.915 0.110 0.862 0.100 0.866 0.100 0.935 0.090
140 0.882 0.100 0.915 0.110 0.865 0.100 0.870 0.100 0.935 0.090
149 0.885 0.100 0.915 0.110 0.868 0.100 0.875 0.100 0.937 0.085
}\Po
\begin{tikzpicture}
% row 1
\begin{axis}[facet, firstcol, at={(26.6pt,-13.15pt)}, title={task = all | train\_size = 100}]
\panelplots{\Pa}
\end{axis}
\begin{axis}[facet, at={(243.3pt,-13.15pt)}, title={task = all | train\_size = 1000}]
\panelplots{\Pb}
\end{axis}
\begin{axis}[facet, at={(458.6pt,-13.15pt)}, title={task = all | train\_size = 5000}]
\panelplots{\Pc}
\end{axis}
% row 2
\begin{axis}[facet, firstcol, at={(26.6pt,-233.15pt)}, title={task = between | train\_size = 100}]
\panelplots{\Pd}
\end{axis}
\begin{axis}[facet, at={(243.3pt,-233.15pt)}, title={task = between | train\_size = 1000}]
\panelplots{\Pe}
\end{axis}
\begin{axis}[facet, at={(458.6pt,-233.15pt)}, title={task = between | train\_size = 5000}]
\panelplots{\Pf}
\end{axis}
% row 3
\begin{axis}[facet, firstcol, at={(26.6pt,-453.15pt)}, title={task = occurs | train\_size = 100}]
\panelplots{\Pg}
\end{axis}
\begin{axis}[facet, at={(243.3pt,-453.15pt)}, title={task = occurs | train\_size = 1000}]
\panelplots{\Ph}
\end{axis}
\begin{axis}[facet, at={(458.6pt,-453.15pt)}, title={task = occurs | train\_size = 5000},
  legend style={at={(axis description cs:1.035,0.449)}, anchor=west, draw=none, fill=none,
    font=\fsl, inner sep=0pt, row sep=-1pt, cells={anchor=west}},
  legend image code/.code={\draw[#1] (0pt,0pt) -- (14pt,0pt);}]
\panelplots{\PPi}
\addlegendimage{mplblue, line width=1.6pt}\addlegendentry{train\_acc}
\addlegendimage{mplorange, line width=1.6pt}\addlegendentry{test\_hexos\_acc}
\addlegendimage{mplgreen, line width=1.6pt}\addlegendentry{test\_pentos\_acc}
\addlegendimage{mplred, line width=1.6pt}\addlegendentry{validation\_acc}
\addlegendimage{mplpurple, line width=1.6pt}\addlegendentry{test\_stripes\_acc}
\end{axis}
% row 4
\begin{axis}[facet, firstcol, at={(26.6pt,-673.15pt)}, title={task = same | train\_size = 100}]
\panelplots{\Pj}
\end{axis}
\begin{axis}[facet, at={(243.3pt,-673.15pt)}, title={task = same | train\_size = 1000}]
\panelplots{\Pk}
\end{axis}
\begin{axis}[facet, at={(458.6pt,-673.15pt)}, title={task = same | train\_size = 5000}]
\panelplots{\Pl}
\end{axis}
% row 5
\begin{axis}[facet, firstcol, lastrow, at={(26.6pt,-893.15pt)}, title={task = xoccurs | train\_size = 100}]
\panelplots{\Pm}
\end{axis}
\begin{axis}[facet, lastrow, at={(243.3pt,-893.15pt)}, title={task = xoccurs | train\_size = 1000}]
\panelplots{\Pn}
\end{axis}
\begin{axis}[facet, lastrow, at={(458.6pt,-893.15pt)}, title={task = xoccurs | train\_size = 5000}]
\panelplots{\Po}
\end{axis}
\node[font=\fs, text=black!85] at (702pt,-535pt) {variable};
\pgfresetboundingbox
\path (0pt,0pt) rectangle (747pt,-1120pt);
\end{tikzpicture}
\end{document}
